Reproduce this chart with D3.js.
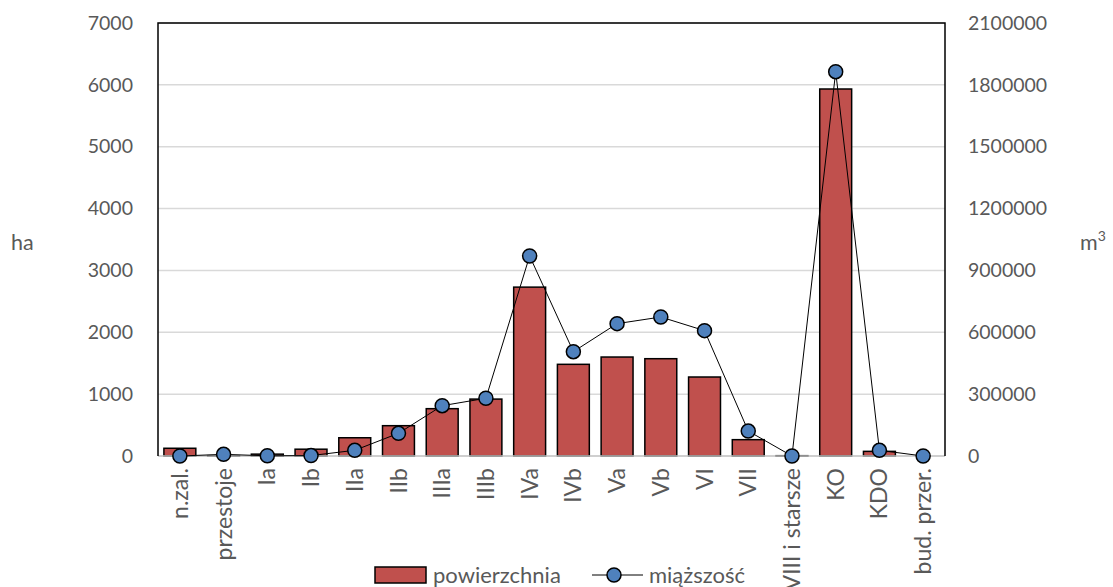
<!DOCTYPE html>
<html>
<head>
<meta charset="utf-8">
<script src="https://cdn.jsdelivr.net/npm/d3@7"></script>
<style>
  html, body { margin: 0; padding: 0; background: #fff; }
  svg text { font-family: Lato, "Open Sans", sans-serif; fill: #595959; }
</style>
</head>
<body>
<svg id="chart" width="1113" height="587"></svg>
<script>
// Age classes of the stand
const categories = ["n.zal.", "przestoje", "Ia", "Ib", "IIa", "IIb", "IIIa", "IIIb", "IVa", "IVb",
  "Va", "Vb", "VI", "VII", "VIII i starsze", "KO", "KDO", "bud. przer."];
// Area (ha)
const powierzchnia = [125, 5, 30, 110, 295, 490, 765, 920, 2730, 1482,
  1600, 1573, 1277, 264, 5, 5933, 75, 0];
// Growing stock volume (m3)
const miazszosc = [0, 8000, 1000, 2000, 27600, 110000, 244000, 280000, 970000, 506000,
  642000, 674000, 608000, 121000, 0, 1864000, 27600, 0];
const leftTicks = [0, 1000, 2000, 3000, 4000, 5000, 6000, 7000];
const rightTicks = [0, 300000, 600000, 900000, 1200000, 1500000, 1800000, 2100000];

const svg = d3.select("#chart");
const m = { left: 158, right: 945, top: 23, bottom: 456 };

const x = d3.scaleBand().domain(categories).range([m.left, m.right]).paddingInner(0.27).paddingOuter(0.135);
const yL = d3.scaleLinear().domain([0, 7000]).range([m.bottom, m.top]);
const yR = d3.scaleLinear().domain([0, 2100000]).range([m.bottom, m.top]);

// Horizontal gridlines
svg.append("g").selectAll("line").data(leftTicks.slice(1)).join("line")
  .attr("x1", m.left).attr("x2", m.right)
  .attr("y1", d => yL(d)).attr("y2", d => yL(d))
  .attr("stroke", "#d9d9d9").attr("stroke-width", 1.5);

// Bars
svg.append("g").selectAll("rect").data(categories).join("rect")
  .attr("x", d => x(d))
  .attr("width", x.bandwidth())
  .attr("y", (d, i) => yL(powierzchnia[i]))
  .attr("height", (d, i) => yL(0) - yL(powierzchnia[i]))
  .attr("fill", "#C0504D").attr("stroke", "#000").attr("stroke-width", 1.5);

// Bottom axis line
svg.append("line").attr("x1", m.left).attr("x2", m.right)
  .attr("y1", m.bottom).attr("y2", m.bottom)
  .attr("stroke", "#bfbfbf").attr("stroke-width", 1.5);

// Plot frame: left, top, right
svg.append("path")
  .attr("d", `M${m.left},${m.bottom}V${m.top}H${m.right}V${m.bottom}`)
  .attr("fill", "none").attr("stroke", "#000").attr("stroke-width", 1.5);

// Volume line with markers
const cx = d => x(d) + x.bandwidth() / 2;
const line = d3.line().x(d => cx(d)).y((d, i) => yR(miazszosc[i]));
svg.append("path").datum(categories).attr("d", line)
  .attr("fill", "none").attr("stroke", "#000").attr("stroke-width", 1);
svg.append("g").selectAll("circle").data(categories).join("circle")
  .attr("cx", d => cx(d)).attr("cy", (d, i) => yR(miazszosc[i]))
  .attr("r", 7).attr("fill", "#4F81BD").attr("stroke", "#000").attr("stroke-width", 1.5);

// Left axis
const axL = svg.append("g").attr("transform", `translate(${m.left},0)`)
  .call(d3.axisLeft(yL).tickValues(leftTicks).tickFormat(d3.format("d")).tickSize(0).tickPadding(25));
axL.select(".domain").remove();
axL.selectAll("text").attr("font-size", 19.5).attr("font-family", null);

// Right axis
const axR = svg.append("g").attr("transform", `translate(${m.right},0)`)
  .call(d3.axisRight(yR).tickValues(rightTicks).tickFormat(d3.format("d")).tickSize(0).tickPadding(23));
axR.select(".domain").remove();
axR.selectAll("text").attr("font-size", 19.5).attr("font-family", null);

// Category labels, rotated
svg.append("g").selectAll("text").data(categories).join("text")
  .attr("transform", d => `translate(${cx(d)},${m.bottom + 12}) rotate(-90)`)
  .attr("text-anchor", "end").attr("dy", "0.35em")
  .attr("font-size", 23).text(d => d);

// Axis titles
svg.append("text").attr("x", 11).attr("y", 250).attr("font-size", 21.5).text("ha");
const mt = svg.append("text").attr("x", 1080).attr("y", 250).attr("font-size", 21.5);
mt.append("tspan").text("m");
mt.append("tspan").attr("font-size", 14).attr("dy", -9).text("3");

// Legend
const lg = svg.append("g");
lg.append("rect").attr("x", 375).attr("y", 567).attr("width", 51).attr("height", 16)
  .attr("fill", "#C0504D").attr("stroke", "#000").attr("stroke-width", 1.5);
lg.append("text").attr("x", 433).attr("y", 583).attr("font-size", 22).text("powierzchnia");
lg.append("line").attr("x1", 592).attr("x2", 643).attr("y1", 575).attr("y2", 575)
  .attr("stroke", "#000").attr("stroke-width", 1);
lg.append("circle").attr("cx", 614).attr("cy", 575).attr("r", 7)
  .attr("fill", "#4F81BD").attr("stroke", "#000").attr("stroke-width", 1.5);
lg.append("text").attr("x", 649).attr("y", 583).attr("font-size", 22).text("miąższość");
</script>
</body>
</html>
